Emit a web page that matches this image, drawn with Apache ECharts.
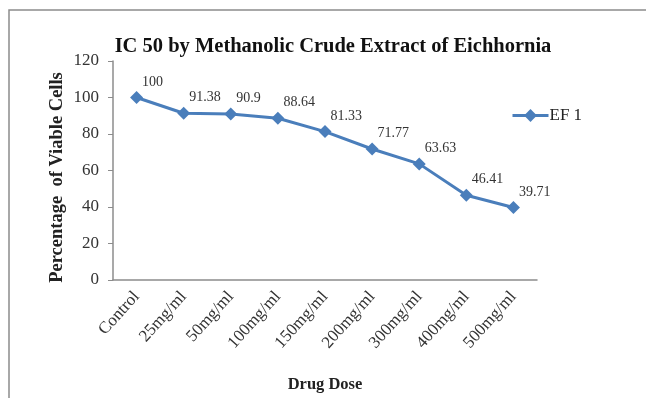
<!DOCTYPE html>
<html>
<head>
<meta charset="utf-8">
<script src="https://cdn.jsdelivr.net/npm/echarts@6/dist/echarts.min.js"></script>
<style>html,body{margin:0;padding:0;background:#fff}#c{width:646px;height:398px}</style>
</head>
<body>
<div id="c"></div>
<script>
// Drug doses and viability readings for the methanolic extract
const doses = ['Control', '25mg/ml', '50mg/ml', '100mg/ml', '150mg/ml', '200mg/ml', '300mg/ml', '400mg/ml', '500mg/ml'];
const ef1 = [100, 91.38, 90.9, 88.64, 81.33, 71.77, 63.63, 46.41, 39.71];
const yTicks = [0, 20, 40, 60, 80, 100, 120];

const serif = '"Liberation Serif", "DejaVu Serif", serif';
const blue = '#4a7ebb';

const chart = echarts.init(document.getElementById('c'));
chart.setOption({
  animation: false,
  backgroundColor: '#fff',
  graphic: [{
    type: 'polyline',
    shape: { points: [[9, 398], [9, 10], [646, 10]] },
    style: { stroke: '#8c8c8c', lineWidth: 1.5, fill: null }
  }],
  title: {
    text: 'IC 50 by Methanolic Crude Extract of Eichhornia',
    left: 328, top: 31, textAlign: 'center',
    textStyle: { fontFamily: serif, fontSize: 20.5, fontWeight: 'bold', color: '#111' }
  },
  legend: {
    data: ['EF 1'],
    left: 506, top: 102,
    itemWidth: 36, itemHeight: 16, itemGap: 2,
    lineStyle: { width: 3 },
    textStyle: { fontFamily: serif, fontSize: 17, color: '#222', padding: [0, 0, 0, -4] }
  },
  grid: { left: 113, right: 109, top: 61, bottom: 117, containLabel: false },
  xAxis: {
    type: 'category',
    data: doses,
    boundaryGap: true,
    name: 'Drug Dose',
    nameLocation: 'middle',
    nameGap: 96,
    nameMoveOverlap: false,
    nameTextStyle: { fontFamily: serif, fontSize: 16.5, fontWeight: 'bold', color: '#222' },
    axisLine: { lineStyle: { color: '#8c8c8c', width: 1.5 } },
    axisTick: { show: false },
    axisLabel: {
      rotate: 48, margin: 14, interval: 0,
      fontFamily: serif, fontSize: 17, color: '#333'
    }
  },
  yAxis: {
    type: 'value',
    min: yTicks[0], max: yTicks[yTicks.length - 1], interval: 20,
    name: 'Percentage  of Viable Cells',
    nameLocation: 'middle',
    nameGap: 46,
    nameMoveOverlap: false,
    nameTextStyle: { fontFamily: serif, fontSize: 18.5, fontWeight: 'bold', color: '#222', padding: [0, 14, 0, 0] },
    axisLine: { show: true, lineStyle: { color: '#8c8c8c', width: 1.5 } },
    axisTick: { show: true, length: 5, lineStyle: { color: '#8c8c8c' } },
    splitLine: { show: false },
    axisLabel: { margin: 14, fontFamily: serif, fontSize: 17, color: '#333' }
  },
  series: [{
    name: 'EF 1',
    type: 'line',
    data: ef1,
    symbol: 'diamond',
    symbolSize: 13,
    itemStyle: { color: blue },
    lineStyle: { color: blue, width: 3 },
    label: {
      show: true,
      position: [12, -16],
      align: 'left',
      fontFamily: serif, fontSize: 14, color: '#333'
    }
  }]
});
</script>
</body>
</html>
